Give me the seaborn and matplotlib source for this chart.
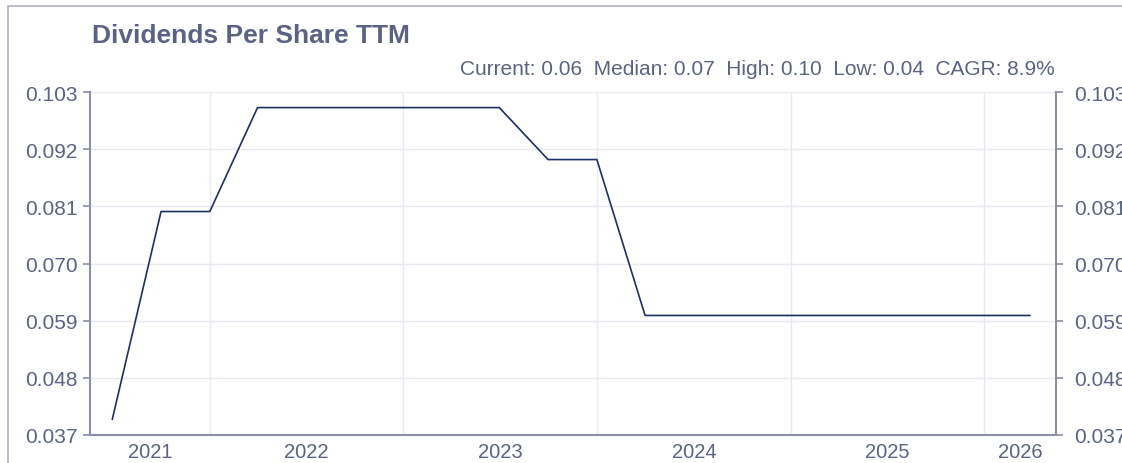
import matplotlib
matplotlib.use("Agg")
import matplotlib.pyplot as plt
import matplotlib.dates as mdates
from matplotlib.patches import Rectangle
import seaborn as sns
import pandas as pd

# ---- data ----
dates = ["2021-07-01", "2021-10-01", "2022-01-01", "2022-04-01", "2022-07-01",
         "2022-10-01", "2023-01-01", "2023-04-01", "2023-07-01", "2023-10-01",
         "2024-01-01", "2024-04-01", "2024-07-01", "2024-10-01", "2025-01-01",
         "2025-04-01", "2025-07-01", "2025-10-01", "2026-01-01", "2026-03-28"]
dps = [0.04, 0.08, 0.08, 0.10, 0.10,
       0.10, 0.10, 0.10, 0.10, 0.09,
       0.09, 0.06, 0.06, 0.06, 0.06,
       0.06, 0.06, 0.06, 0.06, 0.06]
y_ticks = [0.037, 0.048, 0.059, 0.070, 0.081, 0.092, 0.103]
year_labels = ["2021", "2022", "2023", "2024", "2025", "2026"]
title = "Dividends Per Share TTM"
stats = "Current: 0.06  Median: 0.07  High: 0.10  Low: 0.04  CAGR: 8.9%"

df = pd.DataFrame({"date": pd.to_datetime(dates), "dps": dps})

TEXT = "#5b6384"
AXIS = "#8a8fa6"
GRID = "#e9eaf1"
LINE = "#1a3168"

sns.set_theme(style="white")
plt.rcParams["font.family"] = ["Liberation Sans", "DejaVu Sans"]

W, H = 1122, 464
fig = plt.figure(figsize=(W / 100, H / 100), dpi=100)
ax = fig.add_axes([90 / W, 1 - 436 / H, (1056 - 90) / W, (436 - 93) / H])

sns.lineplot(data=df, x="date", y="dps", ax=ax, color=LINE, linewidth=1.2)

xmin = mdates.date2num(pd.Timestamp("2021-05-20"))
xmax = mdates.date2num(pd.Timestamp("2026-05-16"))
ax.set_xlim(xmin, xmax)
ax.set_ylim(y_ticks[0], y_ticks[-1])

# year boundaries as major ticks, labels centered on visible span
bounds = [mdates.date2num(pd.Timestamp(f"{y}-01-01")) for y in range(2022, 2027)]
ax.set_xticks(bounds)
ax.set_xticklabels([])
edges = [xmin] + bounds + [xmax]
mids = [(edges[i] + edges[i + 1]) / 2 for i in range(len(edges) - 1)]
ax.set_xticks(mids, minor=True)
ax.set_xticklabels(year_labels, minor=True)
ax.tick_params(axis="x", which="minor", length=0, pad=5, labelsize=14.5, labelcolor=TEXT)
ax.tick_params(axis="x", which="major", length=10, width=1.2, color=AXIS, direction="out")

ax.set_yticks(y_ticks)
ax.set_yticklabels([f"{v:.3f}" for v in y_ticks])
ax.tick_params(axis="y", which="major", length=5, width=1.2, color=AXIS,
               labelsize=15, labelcolor=TEXT, left=True, right=False,
               labelleft=True, labelright=False, pad=4)

# right-hand axis mirrors the left one
ax2 = ax.twinx()
ax2.set_ylim(ax.get_ylim())
ax2.set_yticks(y_ticks)
ax2.set_yticklabels([f"{v:.3f}" for v in y_ticks])
ax2.tick_params(axis="y", which="major", length=5, width=1.2, color=AXIS,
                labelsize=15, labelcolor=TEXT, pad=8)
ax2.grid(False)
for side in ["left", "top", "bottom"]:
    ax2.spines[side].set_visible(False)
ax2.spines["right"].set_visible(True)
ax2.spines["right"].set_color(AXIS)
ax2.spines["right"].set_linewidth(1.5)

ax.grid(True, which="major", color=GRID, linewidth=1)
ax.set_axisbelow(True)
ax.set_xlabel("")
ax.set_ylabel("")

for side in ["left", "bottom"]:
    ax.spines[side].set_visible(True)
    ax.spines[side].set_color(AXIS)
    ax.spines[side].set_linewidth(1.5)
ax.spines["top"].set_visible(False)
ax.spines["right"].set_visible(False)

# outer frame
fig.patches.append(Rectangle((8 / W, -0.5), 1.5, 1.5 - 7 / H,
                             transform=fig.transFigure, fill=False,
                             edgecolor="#aeb2c8", linewidth=1.2))

fig.text(92 / W, 1 - 43 / H, title, ha="left", va="baseline",
         fontsize=19, fontweight="bold", color=TEXT)
fig.text(1055 / W, 1 - 75 / H, stats, ha="right", va="baseline",
         fontsize=15, color=TEXT)

fig.savefig("out.png", dpi=100)
